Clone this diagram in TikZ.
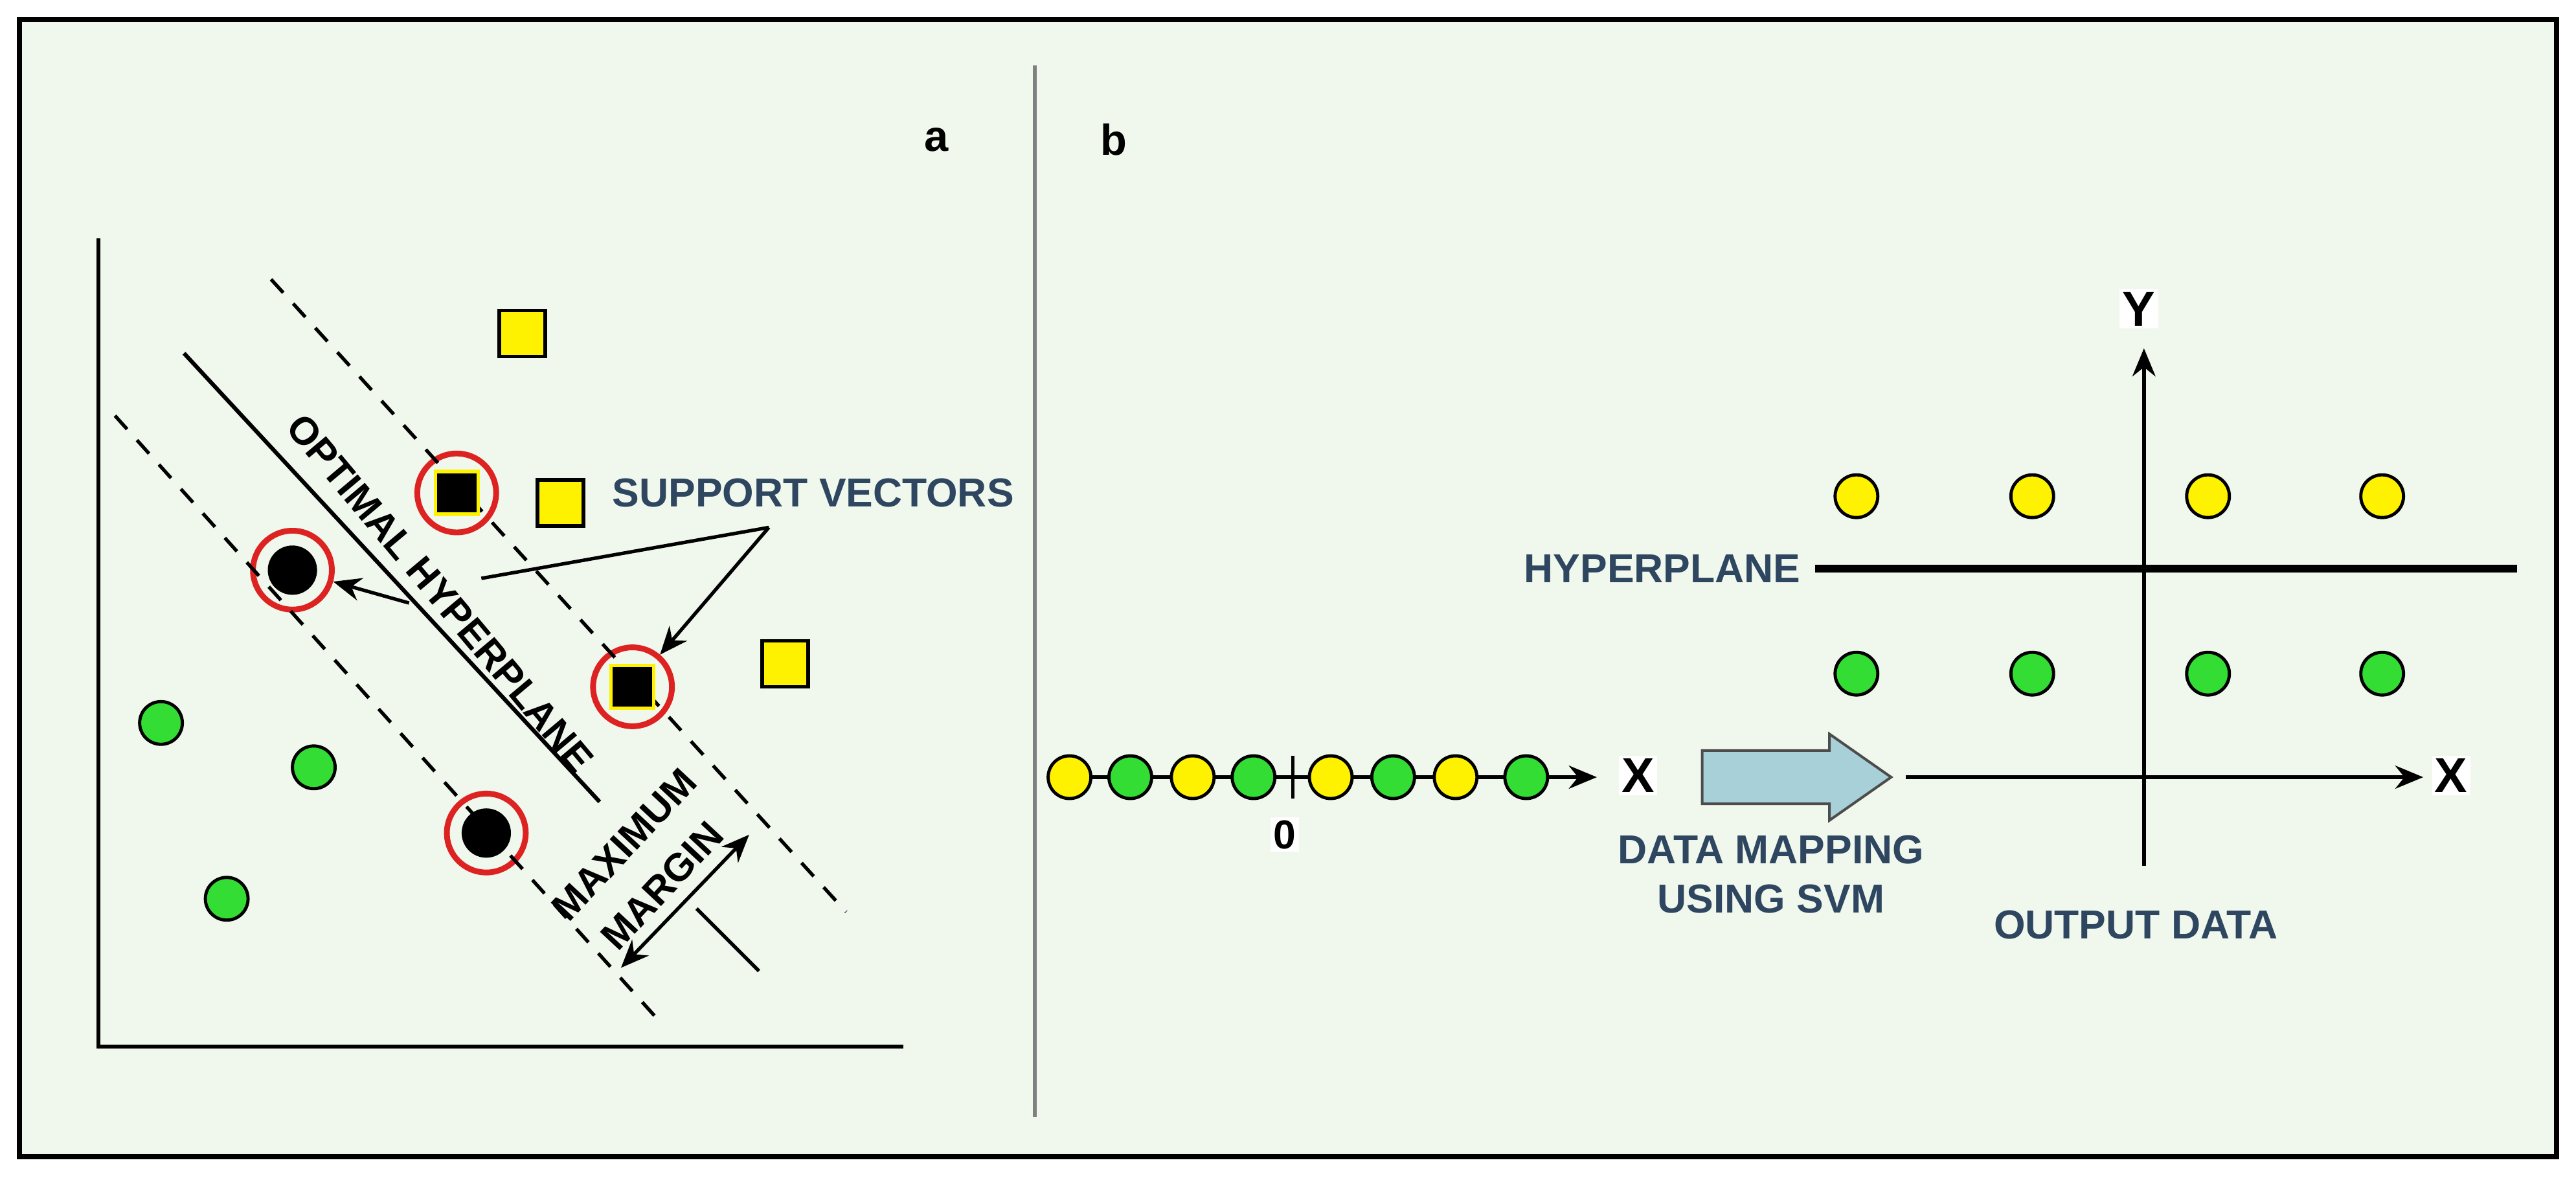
\documentclass[tikz,border=0pt]{standalone}
\usepackage{fontspec}
\setmainfont{Liberation Sans}
\usetikzlibrary{arrows.meta,shapes.arrows}
\definecolor{bg}{HTML}{F0F7EC}
\definecolor{ylw}{HTML}{FFF200}
\definecolor{grn}{HTML}{33DD33}
\definecolor{txt}{HTML}{2E4660}
\definecolor{svred}{HTML}{DD2222}
\definecolor{arr}{HTML}{A8D0D8}
\begin{document}
\begin{tikzpicture}[x=0.2mm,y=-0.2mm,
  dot/.style={circle,draw=black,line width=1.1pt,minimum size=5.2mm,inner sep=0},
  yd/.style={dot,fill=ylw}, gd/.style={dot,fill=grn},
  sq/.style={rectangle,draw=black,line width=1.3pt,fill=ylw,minimum size=5.6mm,inner sep=0},
  ring/.style={circle,draw=svred,line width=2pt,fill=bg,minimum size=9.6mm,inner sep=0},
  lab/.style={font=\bfseries\fontsize{14}{17}\selectfont,text=txt,align=center,inner sep=1pt},
  blk/.style={font=\bfseries\fontsize{13.5}{15}\selectfont,inner sep=1pt},
  big/.style={font=\bfseries\fontsize{17}{19}\selectfont,inner sep=1pt,fill=white},
  ax/.style={line width=1.4pt},
  dsh/.style={line width=1.2pt,dash pattern=on 2.2mm off 1.8mm},
  tip/.style={-{Stealth[length=3.4mm,width=2.8mm]}}]
\useasboundingbox (0,0) rectangle (1568,718);
\fill[bg] (12,12) rectangle (1556,704);
\draw[line width=1.8pt] (12,12) rectangle (1556,704);
\draw[gray,line width=1.4pt] (630,40) -- (630,680);
\node[font=\bfseries\fontsize{15}{17}\selectfont] (la) at (570,85) {a};
\node[font=\bfseries\fontsize{15}{17}\selectfont] (lb) at (678,85) {b};
% panel a
\coordinate (o) at (60,637);
\draw[ax] (60,145) -- (o) -- (550,637);
\draw[ax] (112,215) -- (365,488);
\node[sq] (y1) at (318,203) {};
\node[sq] (y2) at (341,306) {};
\node[sq] (y3) at (478,404) {};
\node[ring] (s1) at (278,300) {};
\node[ring] (s2) at (385,418) {};
\node[ring] (s3) at (178,347) {};
\node[ring] (s4) at (296,507) {};
\draw[dsh] (165,170) -- (515,555);
\draw[dsh] (70,253) -- (400,620);
\foreach \n in {s1,s2}{\node[rectangle,draw=ylw,line width=1.2pt,fill=black,minimum size=5.2mm,inner sep=0] at (\n) {};}
\foreach \n in {s3,s4}{\node[circle,fill=black,minimum size=6mm,inner sep=0] at (\n) {};}
\node[gd] (g1) at (98,440) {};
\node[gd] (g2) at (191,467) {};
\node[gd] (g3) at (138,547) {};
\node[lab] (sv) at (495,300) {SUPPORT VECTORS};
\coordinate (apex) at (468,321);
\coordinate (p1) at (293,352);
\coordinate (p2) at (249,367);
\draw[line width=1.2pt] (apex) -- (p1);
\draw[line width=1.2pt,tip] (p2) -- (s3);
\draw[line width=1.2pt,tip] (apex) -- (s2);
\node[blk,rotate=-50] (oh) at (268,361) {OPTIMAL HYPERPLANE};
\node[blk,rotate=47] (mm) at (380,514) {MAXIMUM};
\node[blk,rotate=47] (mg) at (403,539) {MARGIN};
\coordinate (m1) at (378,589);
\coordinate (m2) at (456,508);
\draw[line width=1.2pt,{Stealth[length=3.4mm,width=2.8mm]}-{Stealth[length=3.4mm,width=2.8mm]}] (m1) -- (m2);
\coordinate (t1) at (424,553);
\coordinate (t2) at (462,591);
\draw[line width=1.2pt] (t1) -- (t2);
% panel b left
\coordinate (l0) at (640,473);
\coordinate (l1) at (972,473);
\draw[line width=1.4pt,tip] (l0) -- (l1);
\draw[line width=1.1pt] (787,460) -- (787,486);
\foreach \x/\s [count=\i] in {651/yd,688/gd,726/yd,763/gd,810/yd,848/gd,886/yd,929/gd}{\node[\s] (d\i) at (\x,473) {};}
\node[big,font=\bfseries\fontsize{14}{16}\selectfont] (zero) at (782,508) {0};
\node[big] (x1) at (997,472) {X};
\node[single arrow,draw=black!70,line width=0.9pt,fill=arr,minimum height=23mm,minimum width=10.5mm,single arrow head extend=0.9mm,single arrow tip angle=70,inner sep=1.3mm] (map) at (1082,473) {};
\node[lab] (dm) at (1078,532) {DATA MAPPING\\USING SVM};
% output axes
\coordinate (xa0) at (1160,473);
\coordinate (xa1) at (1475,473);
\coordinate (ya0) at (1305,527);
\coordinate (ya1) at (1305,212);
\draw[ax,tip] (xa0) -- (xa1);
\draw[ax,tip] (ya0) -- (ya1);
\node[big] (x2) at (1492,472) {X};
\node[big] (yl) at (1302,188) {Y};
\node[lab,anchor=east] (hp) at (1098,346) {HYPERPLANE};
\coordinate (h1) at (1532,346);
\draw[line width=2.8pt] (hp.east) ++(7,0) -- (h1);
\foreach \x [count=\i] in {1130,1237,1344,1450}{
  \node[yd] (u\i) at (\x,302) {};
  \node[gd] (w\i) at (\x,410) {};}
\node[lab] (od) at (1300,563) {OUTPUT DATA};
\end{tikzpicture}
\end{document}
